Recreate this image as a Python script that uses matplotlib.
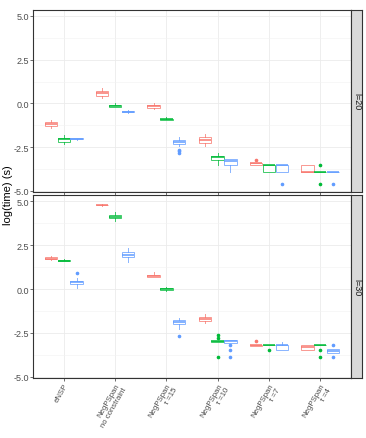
import matplotlib
matplotlib.use("Agg")
import matplotlib.pyplot as plt
import numpy as np

plt.rcParams['font.family'] = ['Liberation Sans', 'DejaVu Sans']

## categories and colours (red, green, blue groups)
cats = ["eNSP", "NegPSpan\nno constraint", "NegPSpan\nτ =15",
        "NegPSpan\nτ =10", "NegPSpan\nτ =7", "NegPSpan\nτ =4"]
colors = ["#F8766D", "#00BA38", "#619CFF"]
panels = ["l=20", "l=30"]

## box stats for l=20, rows = red, green, blue
l20_med = [[-1.19, 0.57, -0.13, -2.10, -3.43, -3.92],
           [-2.02, -0.14, -0.89, -3.07, -3.49, -3.90],
           [-2.01, -0.48, -2.22, -3.30, -3.49, -3.90]]
l20_q1 = [[-1.31, 0.45, -0.25, -2.24, -3.52, -3.92],
          [-2.22, -0.18, -0.92, -3.24, -3.92, -3.90],
          [-2.04, -0.50, -2.33, -3.51, -3.92, -3.90]]
l20_q3 = [[-1.08, 0.70, -0.06, -1.90, -3.39, -3.49],
          [-1.97, -0.08, -0.86, -2.98, -3.49, -3.90],
          [-1.98, -0.45, -2.10, -3.19, -3.49, -3.90]]
l20_lo = [[-1.40, 0.30, -0.30, -2.41, -3.52, -3.92],
          [-2.31, -0.18, -0.95, -3.49, -3.92, -3.90],
          [-2.10, -0.52, -2.45, -3.92, -3.92, -3.90]]
l20_hi = [[-0.97, 0.89, 0.03, -1.76, -3.39, -3.49],
          [-1.80, 0.03, -0.76, -2.82, -3.49, -3.90],
          [-1.95, -0.38, -1.93, -3.19, -3.49, -3.90]]
l20_out = [[[], [], [], [], [-3.22], []],
           [[], [], [], [], [], [-3.49, -4.59]],
           [[], [], [-2.64, -2.72, -2.82], [], [-4.59], [-4.59]]]

## box stats for l=30
l30_med = [[1.74, 4.79, 0.76, -1.69, -3.20, -3.33],
           [1.61, 4.13, -0.02, -2.97, -3.20, -3.20],
           [0.38, 1.93, -1.88, -2.97, -3.20, -3.52]]
l30_q1 = [[1.69, 4.77, 0.70, -1.80, -3.22, -3.50],
          [1.59, 4.03, -0.08, -2.99, -3.21, -3.21],
          [0.28, 1.84, -2.01, -3.05, -3.50, -3.62]]
l30_q3 = [[1.80, 4.81, 0.81, -1.57, -3.18, -3.20],
          [1.63, 4.22, 0.04, -2.95, -3.19, -3.19],
          [0.47, 2.10, -1.76, -2.92, -3.20, -3.43]]
l30_lo = [[1.66, 4.75, 0.68, -1.95, -3.22, -3.50],
          [1.57, 3.90, -0.12, -2.99, -3.21, -3.21],
          [0.06, 1.55, -2.27, -3.05, -3.50, -3.62]]
l30_hi = [[1.91, 4.83, 0.98, -1.44, -3.18, -3.20],
          [1.70, 4.41, 0.13, -2.95, -3.19, -3.19],
          [0.62, 2.35, -1.67, -2.92, -2.99, -3.43]]
l30_out = [[[], [], [], [], [-2.97], []],
           [[], [], [], [-2.63, -2.78, -3.88], [-3.48], [-3.48, -3.88]],
           [[0.89], [], [-2.67], [-3.20, -3.48, -3.88], [], [-3.20, -3.88]]]

panel_stats = [(l20_med, l20_q1, l20_q3, l20_lo, l20_hi, l20_out),
               (l30_med, l30_q1, l30_q3, l30_lo, l30_hi, l30_out)]

fig = plt.figure(figsize=(3.66, 4.39), dpi=100)
W, H = 366, 439
rects = [(33, 11, 351, 193), (33, 196, 351, 379)]
ylims = [(-5.06, 5.34), (-5.07, 5.36)]
x = np.arange(1, len(cats) + 1)
offs = [-0.25, 0.0, 0.25]

for p, (x0, y0, x1, y1) in enumerate(rects):
    ax = fig.add_axes([x0 / W, 1 - y1 / H, (x1 - x0) / W, (y1 - y0) / H])
    med, q1, q3, lo, hi, out = panel_stats[p]
    ax.set_xlim(0.4, 6.6)
    ax.set_ylim(*ylims[p])
    ax.set_yticks([-5, -2.5, 0, 2.5, 5])
    ax.set_yticklabels(["-5.0", "-2.5", "0.0", "2.5", "5.0"])
    ax.set_yticks([-3.75, -1.25, 1.25, 3.75], minor=True)
    ax.set_xticks(x)
    ax.grid(True, which='major', color='#EBEBEB', lw=0.6, zorder=0)
    ax.grid(True, which='minor', axis='y', color='#F2F2F2', lw=0.4, zorder=0)
    ax.set_axisbelow(True)
    for g in range(3):
        c = colors[g]
        stats = []
        for i in range(len(cats)):
            stats.append(dict(med=med[g][i], q1=q1[g][i], q3=q3[g][i],
                              whislo=lo[g][i], whishi=hi[g][i],
                              fliers=out[g][i]))
        ax.bxp(stats, positions=x + offs[g], widths=0.24, patch_artist=True,
               boxprops=dict(facecolor='white', edgecolor=c, alpha=0.75, lw=0.7),
               whiskerprops=dict(color=c, alpha=0.75, lw=0.7),
               capprops=dict(linewidth=0),
               medianprops=dict(color=c, lw=1.1),
               flierprops=dict(marker='o', markerfacecolor=c, markeredgecolor=c,
                               markersize=1.6, linestyle='none'),
               manage_ticks=False)
    for s in ax.spines.values():
        s.set_color('#333333')
        s.set_linewidth(0.8)
    ax.tick_params(axis='both', which='major', length=2, width=0.5,
                   color='#333333', labelsize=6.5, labelcolor='#4D4D4D', pad=1)
    ax.tick_params(axis='both', which='minor', length=0)
    if p == 0:
        ax.set_xticklabels([])
    else:
        ax.set_xticklabels(cats, rotation=60, ha='right', rotation_mode='anchor',
                           multialignment='right', fontsize=5.6)

    # facet strip on the right
    sx = fig.add_axes([x1 / W, 1 - y1 / H, 11 / W, (y1 - y0) / H])
    sx.set_facecolor('#D9D9D9')
    sx.set_xticks([])
    sx.set_yticks([])
    for s in sx.spines.values():
        s.set_color('#333333')
        s.set_linewidth(0.8)
    sx.text(0.5, 0.5, panels[p], rotation=-90, ha='center', va='center',
            fontsize=6.5, color='#1A1A1A', transform=sx.transAxes)

fig.text(8 / W, 1 - 195 / H, "log(time) (s)", rotation=90, ha='center',
         va='center', fontsize=8)

fig.savefig("out.png", dpi=100)
